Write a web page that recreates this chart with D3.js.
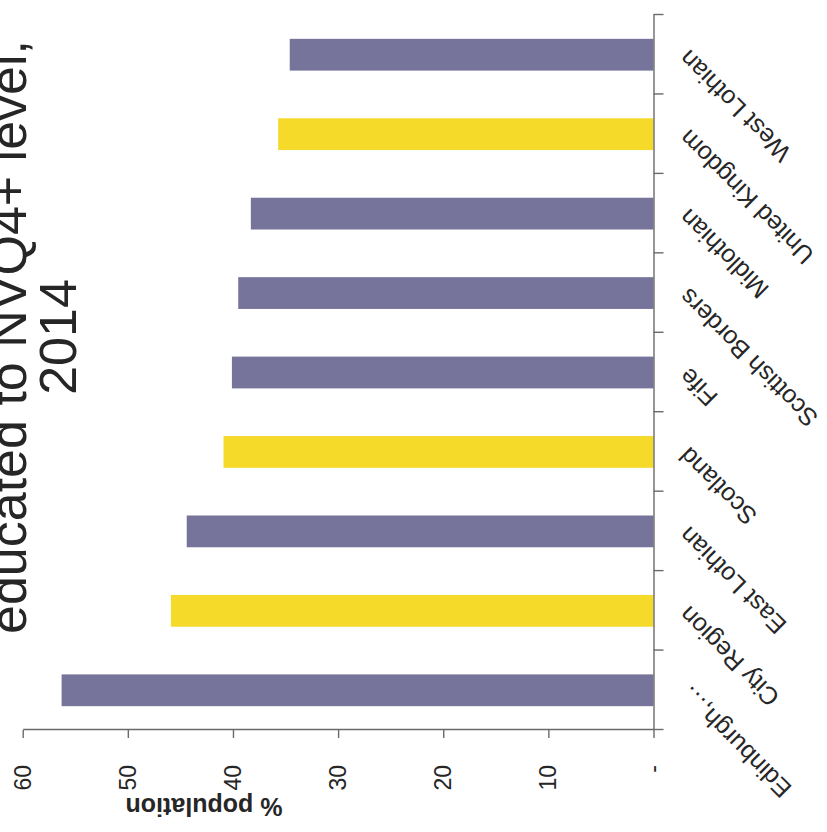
<!DOCTYPE html>
<html>
<head>
<meta charset="utf-8">
<script src="https://cdn.jsdelivr.net/npm/d3@7"></script>
<style>
  html, body { margin: 0; padding: 0; background: #ffffff; }
  svg { display: block; }
</style>
</head>
<body>
<svg id="chart" width="827" height="832"></svg>
<script>
// Share of population educated to NVQ4+ level, 2014 (%)
const categories = ["Edinburgh,…", "City Region", "East Lothian", "Scotland", "Fife",
                    "Scottish Borders", "Midlothian", "United Kingdom", "West Lothian"];
const values = [56.3, 45.9, 44.4, 40.9, 40.1, 39.5, 38.3, 35.7, 34.6];
// Aggregate areas used as benchmarks are drawn in yellow
const benchmark = [false, true, false, true, false, false, false, true, false];
const valueTicks = [0, 10, 20, 30, 40, 50, 60];
const titleLines = ["educated to NVQ4+ level,", "2014"];
const axisTitle = "% population";

const FONT = "'Liberation Sans', Arial, sans-serif";
const INK = "#262626";
const AXIS = "#6a6a6a";
const COLOR_AREA = "#76749a";
const COLOR_BENCH = "#f6da2a";

const svg = d3.select("#chart");

// The column chart is laid out in its own frame and turned a quarter turn
// anticlockwise on the page: categories run upward, values run leftward.
const g = svg.append("g").attr("transform", "translate(0,730) rotate(-90)");

const plotLen = 715;
const x = d3.scaleBand().domain(categories).range([0, plotLen])
  .paddingInner(0.6).paddingOuter(0.3);
const y = d3.scaleLinear().domain([0, 60]).range([653.5, 22.7]);

// Bars
g.selectAll("rect.bar")
  .data(categories)
  .join("rect")
  .attr("class", "bar")
  .attr("x", d => x(d))
  .attr("width", x.bandwidth())
  .attr("y", (d, i) => y(values[i]))
  .attr("height", (d, i) => y(0) - y(values[i]))
  .attr("fill", (d, i) => benchmark[i] ? COLOR_BENCH : COLOR_AREA);

// Category axis: line with tick marks between categories
const edge = d3.scaleLinear().domain([0, categories.length]).range([0, plotLen]);
const catAxis = g.append("g")
  .attr("transform", `translate(0,${y(0)})`)
  .call(d3.axisBottom(edge)
    .tickValues(d3.range(categories.length + 1))
    .tickSize(10).tickSizeOuter(0).tickFormat(""));
catAxis.selectAll("path,line").attr("stroke", AXIS).attr("stroke-width", 1.4);

// Category labels, slanted
const catLabels = g.append("g")
  .attr("transform", `translate(0,${y(0)})`)
  .call(d3.axisBottom(x).tickSize(0).tickPadding(0));
catLabels.select(".domain").remove();
catLabels.attr("font-family", FONT).attr("font-size", 25);
catLabels.selectAll("text")
  .attr("x", 0).attr("y", 0).attr("dy", "0.35em")
  .attr("fill", INK)
  .attr("text-anchor", "end")
  .attr("transform", "translate(0,30) rotate(-45)");

// Value axis
const valAxis = g.append("g")
  .call(d3.axisLeft(y)
    .tickValues(valueTicks)
    .tickSize(8).tickSizeOuter(0).tickPadding(27)
    .tickFormat(d => d === 0 ? "-" : d));
valAxis.attr("font-family", FONT).attr("font-size", 23);
valAxis.selectAll("path,line").attr("stroke", AXIS).attr("stroke-width", 1.4);
valAxis.selectAll("text").attr("fill", INK);

// Value axis title
g.append("text")
  .attr("transform", "translate(-68,204) rotate(-90)")
  .attr("text-anchor", "middle")
  .attr("font-family", FONT)
  .attr("font-size", 25)
  .attr("font-weight", "bold")
  .attr("fill", INK)
  .text(axisTitle);

// Chart title
const titleBase = [25.5, 76];
g.append("g")
  .selectAll("text")
  .data(titleLines)
  .join("text")
  .attr("x", 393)
  .attr("y", (d, i) => titleBase[i])
  .attr("text-anchor", "middle")
  .attr("font-family", FONT)
  .attr("font-size", 52)
  .attr("fill", INK)
  .text(d => d);
</script>
</body>
</html>
